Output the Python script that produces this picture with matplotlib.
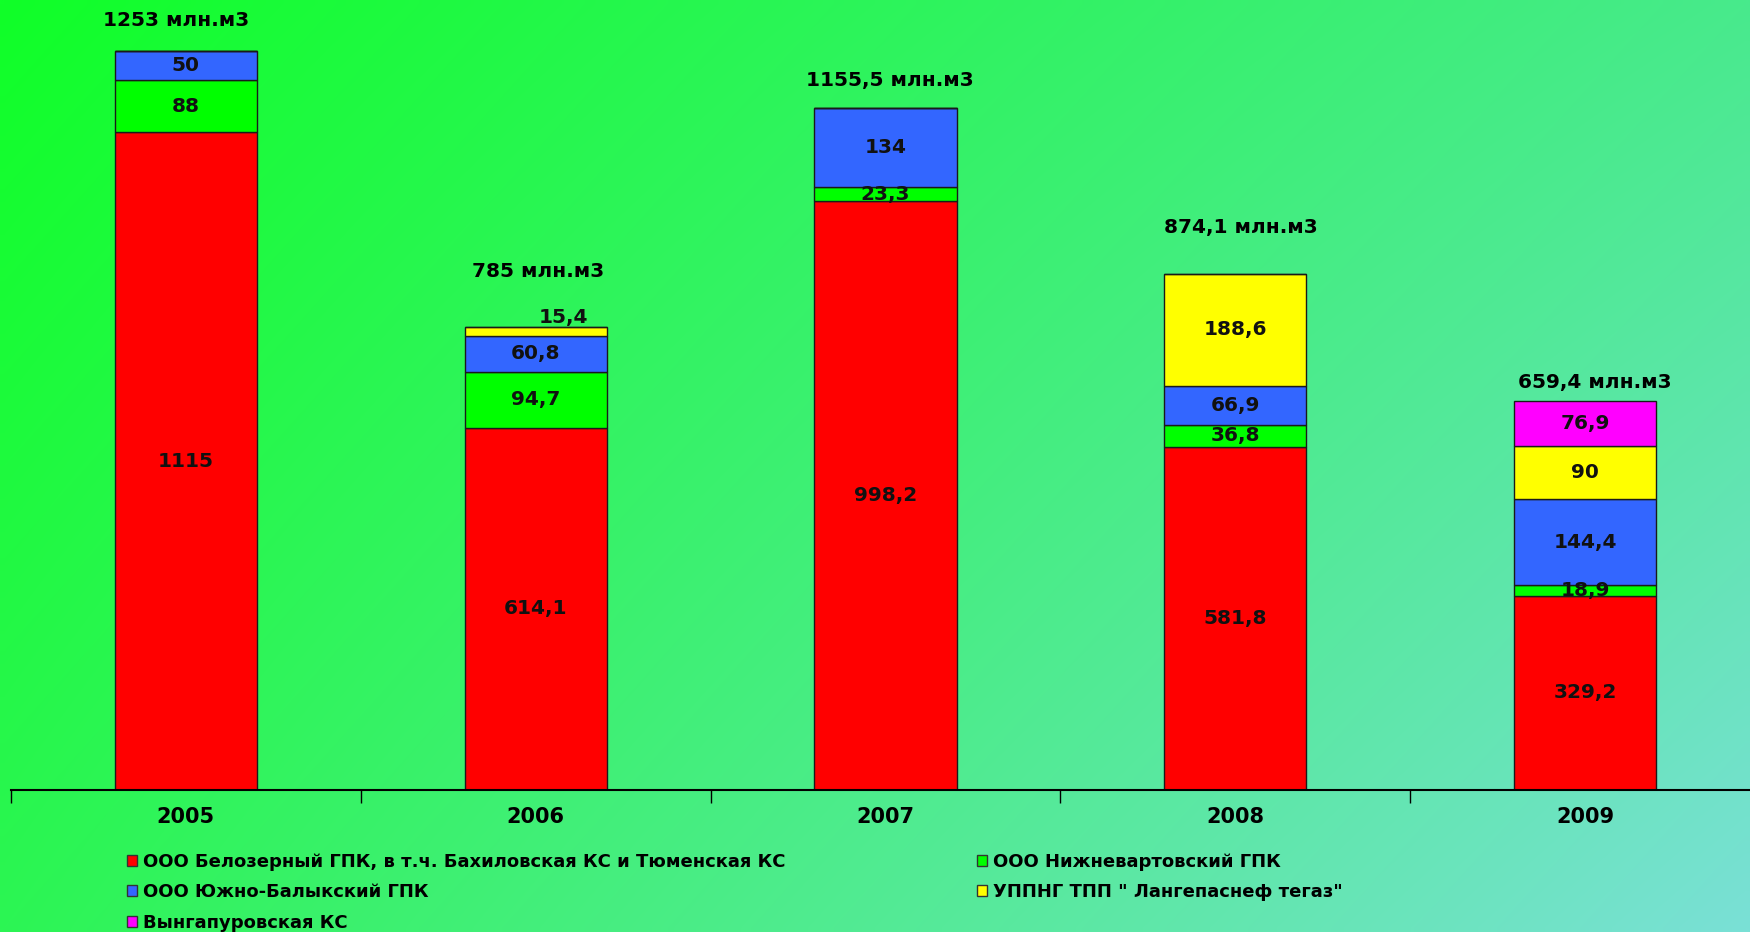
# plot.py - gas supply by source, stacked bars 2005-2009

import numpy as np
import matplotlib.pyplot as plt
from matplotlib.patches import Patch

# Data (values as shown on the chart)
years = ['2005', '2006', '2007', '2008', '2009']
belozerny = [1115, 614.1, 998.2, 581.8, 329.2]
nizhnevartovsk = [88, 94.7, 23.3, 36.8, 18.9]
yuzhno_balyk = [50, 60.8, 134, 66.9, 144.4]
langepas = [0, 15.4, 0, 188.6, 90]
vyngapur = [0, 0, 0, 0, 76.9]
totals = ['1253', '785', '1155,5', '874,1', '659,4']

names = ['ООО Белозерный ГПК, в т.ч. Бахиловская КС и Тюменская КС',
         'ООО Нижневартовский ГПК',
         'ООО Южно-Балыкский ГПК',
         'УППНГ ТПП " Лангепаснеф тегаз"',
         'Вынгапуровская КС']
colors = ['#FF0000', '#00FF00', '#3366FF', '#FFFF00', '#FF00FF']

plt.rcParams['font.family'] = ['DejaVu Sans']

W, H = 1750, 932
fig = plt.figure(figsize=(W / 100, H / 100), dpi=100)

# background gradient (bilinear between the four corners)
bg = fig.add_axes([0, 0, 1, 1], zorder=-10)
tl = np.array([16, 255, 40]) / 255.
tr = np.array([72, 234, 140]) / 255.
bl = np.array([44, 245, 84]) / 255.
br = np.array([122, 224, 214]) / 255.
u = np.linspace(0, 1, 200)[None, :, None]
v = np.linspace(0, 1, 120)[:, None, None]
grad = (1 - v) * ((1 - u) * tl + u * tr) + v * ((1 - u) * bl + u * br)
bg.imshow(grad, aspect='auto', extent=[0, 1, 0, 1], interpolation='bilinear')
bg.axis('off')

# main axes: baseline at y=790 px, 0.59 px per unit
base = 790
scale = 0.59
ax = fig.add_axes([11 / W, (H - base) / H, 1749 / W, base / H])
ax.set_facecolor('none')
ax.set_xlim(-0.5, 4.5)
ax.set_ylim(0, base / scale)

x = np.arange(len(years))
width = 0.406
series = [belozerny, nizhnevartovsk, yuzhno_balyk, langepas, vyngapur]
bottom = np.zeros(len(years))
for vals, c in zip(series, colors):
    vals = np.array(vals, dtype=float)
    ax.bar(x, vals, width, bottom=bottom, color=c,
           edgecolor='#1a1a1a', linewidth=1.0)
    for i in range(len(years)):
        if vals[i] <= 0:
            continue
        lab = ('%g' % vals[i]).replace('.', ',')
        yc = bottom[i] + vals[i] / 2
        off = (0, 0)
        if vals[i] == 15.4:
            off = (20, 10)
        ax.annotate(lab, (x[i], yc), xytext=off, textcoords='offset points',
                    ha='center', va='center', fontsize=14.5, fontweight='bold',
                    color='#111111')
    bottom = bottom + vals

# totals above bars
tot_off = [(-7, 22), (2, 40), (3, 20), (4, 34), (7, 13)]
for i in range(len(years)):
    ax.annotate(totals[i] + ' млн.м3', (x[i], bottom[i]),
                xytext=tot_off[i], textcoords='offset points',
                ha='center', va='center', fontsize=14.5, fontweight='bold')

# axes styling
for s in ['top', 'right', 'left']:
    ax.spines[s].set_visible(False)
ax.spines['bottom'].set_linewidth(1.5)
ax.set_yticks([])
ax.set_xticks(np.arange(-0.5, 5, 1))
ax.set_xticklabels([])
ax.tick_params(axis='x', which='major', direction='out', length=9, width=1)
ax.set_xticks(x, minor=True)
ax.set_xticklabels(years, minor=True, fontsize=15, fontweight='bold')
ax.tick_params(axis='x', which='minor', length=0, pad=12)

# legend, two columns placed separately
handles = [Patch(facecolor=c, edgecolor='#333333', linewidth=1) for c in colors]
kw = dict(loc='upper left', frameon=False, borderpad=0, borderaxespad=0,
          handlelength=0.55, handleheight=0.55, handletextpad=0.35,
          labelspacing=0.68, prop={'size': 13, 'weight': 'bold'})
leg1 = fig.legend([handles[0], handles[2], handles[4]],
                  [names[0], names[2], names[4]],
                  bbox_to_anchor=(127 / W, 1 - 853 / H), **kw)
leg2 = fig.legend([handles[1], handles[3]], [names[1], names[3]],
                  bbox_to_anchor=(977 / W, 1 - 853 / H), **kw)

plt.savefig('out.png', dpi=100)
